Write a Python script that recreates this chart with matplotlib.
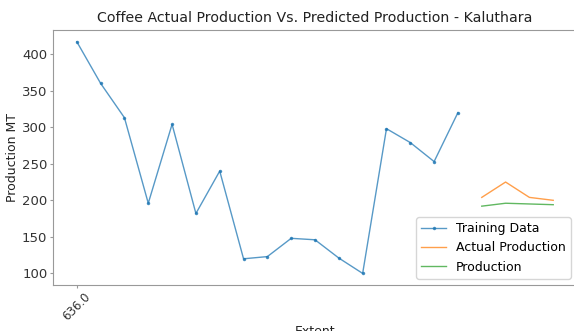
import matplotlib
matplotlib.use("Agg")
import matplotlib.pyplot as plt

# training series (production MT per extent step)
train_y = [417, 360, 313, 196, 304, 182, 240, 120, 123, 148, 146, 121, 100, 298, 279, 253, 320]
# test window: actual vs model prediction
actual_y = [204, 225, 204, 200]
pred_y = [192, 196, 195, 194]

train_x = list(range(len(train_y)))
test_x = list(range(len(train_y), len(train_y) + len(actual_y)))

fig = plt.figure(figsize=(5.74, 3.31), dpi=100)
ax = fig.add_axes([0.0923, 0.139, 0.913, 0.770])

ax.plot(train_x, train_y, marker='.', markersize=3, linewidth=1, color='C0', alpha=0.75, label='Training Data')
ax.plot(test_x, actual_y, linewidth=1, color='C1', alpha=0.75, label='Actual Production')
ax.plot(test_x, pred_y, linewidth=1, color='C2', alpha=0.75, label='Production')

ax.set_xticks([0])
ax.set_xticklabels(['636.0'], rotation=45, fontsize=8.5)
ax.tick_params(axis='y', labelsize=9.5)
ax.tick_params(colors='#333333', length=2, pad=2, color='#999999')
ax.set_xlabel('Extent', fontsize=9, labelpad=1, color='#222222')
ax.set_ylabel('Production MT', fontsize=9, labelpad=2, color='#222222')
ax.set_title('Coffee Actual Production Vs. Predicted Production - Kaluthara', fontsize=10.2, color='#222222')
ax.legend(loc='lower right', fontsize=9)

for s in ax.spines.values():
    s.set_color('#999999')

fig.savefig('out.png', dpi=100)
